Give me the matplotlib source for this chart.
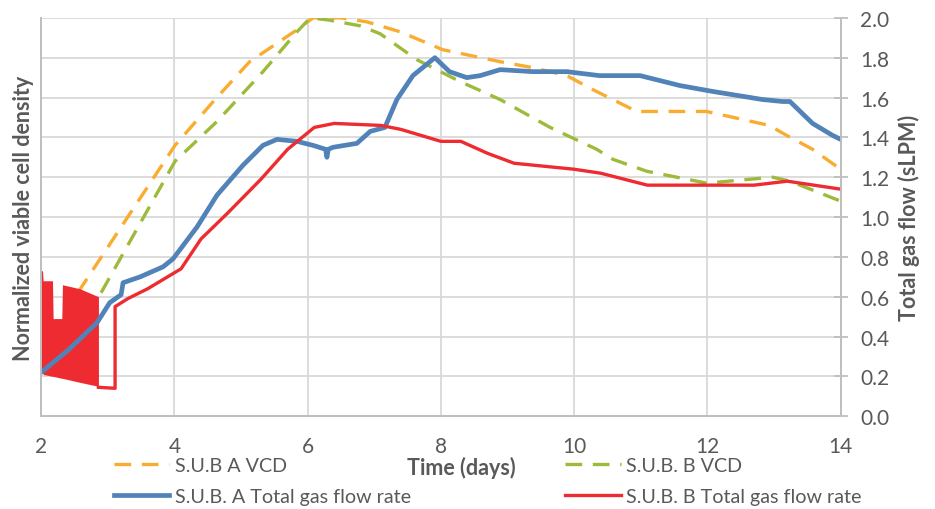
import numpy as np
import matplotlib
matplotlib.use('Agg')
from matplotlib import pyplot as plt

plt.rcParams['font.family'] = ['Lato', 'DejaVu Sans']

# S.U.B A VCD (normalized)
a_vcd_day = [2.55, 4.01, 4.61, 5.13, 5.84, 6.08, 6.5, 6.89, 7.39, 8.03, 8.89, 9.38,
             9.89, 10.28, 10.58, 10.94, 11.99, 12.93, 13.19, 13.58, 14.0]
a_vcd = [0.62, 1.36, 1.59, 1.78, 1.94, 2.0, 2.0, 1.98, 1.93, 1.84, 1.78, 1.75,
         1.71, 1.64, 1.59, 1.53, 1.53, 1.46, 1.41, 1.34, 1.24]

# S.U.B. B VCD (normalized)
b_vcd_day = [2.9, 4.01, 4.64, 5.33, 5.84, 6.04, 6.3, 6.79, 7.09, 7.64, 8.29, 8.89,
             9.64, 10.34, 10.58, 11.09, 11.99, 12.98, 13.24, 14.0]
b_vcd = [0.62, 1.28, 1.48, 1.73, 1.93, 2.0, 1.99, 1.96, 1.92, 1.79, 1.68, 1.59,
         1.45, 1.34, 1.29, 1.23, 1.17, 1.20, 1.18, 1.08]

# S.U.B. A total gas flow (sLPM)
a_gas_day = [2.0, 2.4, 2.84, 3.03, 3.2, 3.23, 3.49, 3.83, 3.98, 4.34, 4.64, 5.03, 5.33,
             5.54, 5.84, 6.08, 6.27, 6.29, 6.31, 6.38, 6.74, 6.94, 7.16, 7.34, 7.58,
             7.91, 8.13, 8.39, 8.59, 8.89, 9.38, 9.89, 10.38, 10.99, 11.59, 12.09,
             12.83, 13.13, 13.24, 13.58, 13.88, 14.0]
a_gas = [0.22, 0.33, 0.47, 0.57, 0.61, 0.67, 0.70, 0.75, 0.79, 0.95, 1.11, 1.26, 1.36,
         1.39, 1.38, 1.36, 1.34, 1.30, 1.34, 1.35, 1.37, 1.43, 1.45, 1.59, 1.71,
         1.80, 1.73, 1.70, 1.71, 1.74, 1.73, 1.73, 1.71, 1.71, 1.66, 1.63,
         1.59, 1.58, 1.58, 1.47, 1.41, 1.39]

# S.U.B. B total gas flow (sLPM): early on/off band, then steady line
b_band_day = [2.0, 2.02, 2.03, 2.17, 2.18, 2.31, 2.32, 2.58, 2.86]
b_band_hi = [0.73, 0.73, 0.68, 0.68, 0.49, 0.49, 0.66, 0.64, 0.60]
b_band_lo = [0.22, 0.22, 0.21, 0.20, 0.20, 0.19, 0.19, 0.17, 0.15]
b_gas_day = [2.86, 3.11, 3.11, 3.3, 3.6, 4.1, 4.4, 4.8, 5.3, 5.7, 6.1, 6.4, 7.1,
             7.4, 8.0, 8.3, 8.7, 9.1, 10.0, 10.4, 11.1, 12.7, 13.2, 14.0]
b_gas = [0.145, 0.14, 0.55, 0.59, 0.64, 0.74, 0.89, 1.02, 1.19, 1.34, 1.45, 1.47,
         1.46, 1.44, 1.38, 1.38, 1.32, 1.27, 1.24, 1.22, 1.16, 1.16, 1.18, 1.14]

x_ticks = [2, 4, 6, 8, 10, 12, 14]
y_ticks = [0.0, 0.2, 0.4, 0.6, 0.8, 1.0, 1.2, 1.4, 1.6, 1.8, 2.0]

ORANGE = '#F9AC30'
GREEN = '#9DBB3A'
BLUE = '#5283B8'
RED = '#EE2B30'
GRID = '#D9D9D9'
TEXT = '#595959'


def main():
    fig = plt.figure(figsize=(9.35, 5.1), dpi=100)
    ax = fig.add_axes([0.044, 0.182, 0.855, 0.781])
    ax2 = ax.twinx()

    for a in (ax, ax2):
        a.set_xlim(2, 14)
        a.set_ylim(0, 2.0)
        for s in a.spines.values():
            s.set_color('#BFBFBF')
            s.set_linewidth(1.3)
        a.spines['top'].set_visible(False)

    ax.set_xticks(x_ticks)
    ax.set_xticklabels([str(t) for t in x_ticks], fontsize=15, color=TEXT)
    ax.tick_params(axis='x', length=0, pad=14)
    ax.set_yticks(y_ticks)
    ax.tick_params(axis='y', length=0, labelleft=False)
    ax.grid(True, color=GRID, lw=1.3)
    ax.set_axisbelow(True)

    ax2.set_yticks(y_ticks)
    ax2.set_yticklabels(['%.1f' % t for t in y_ticks], fontsize=15, color=TEXT)
    ax2.tick_params(axis='y', direction='inout', length=10, width=1.3,
                    color='#BFBFBF', pad=9)

    l_a, = ax.plot(a_vcd_day, a_vcd, color=ORANGE, lw=2.4, ls=(0, (5, 3.2)))
    l_b, = ax.plot(b_vcd_day, b_vcd, color=GREEN, lw=2.4, ls=(0, (5, 3.2)))
    g_a, = ax2.plot(a_gas_day, a_gas, color=BLUE, lw=3.4)
    ax2.fill_between(b_band_day, b_band_lo, b_band_hi, color=RED, lw=0)
    g_b, = ax2.plot(b_gas_day, b_gas, color=RED, lw=2.4)

    ax.set_ylabel('Normalized viable cell density', fontsize=15.5,
                  fontweight='bold', color=TEXT, labelpad=5)
    ax2.set_ylabel('Total gas flow (sLPM)', fontsize=15.5,
                   fontweight='bold', color=TEXT, labelpad=6)
    fig.text(0.493, 0.083, 'Time (days)', fontsize=15.5, fontweight='bold',
             color=TEXT, ha='center', va='center')

    fig.legend([l_a, g_a, l_b, g_b],
               ['S.U.B A VCD', 'S.U.B. A Total gas flow rate',
                'S.U.B. B VCD', 'S.U.B. B Total gas flow rate'],
               ncol=2, loc='center', bbox_to_anchor=(0.522, 0.055),
               frameon=False, fontsize=14.2, handlelength=2.8,
               handletextpad=0.3, columnspacing=7.8, labelspacing=0.68,
               labelcolor=TEXT)

    fig.savefig('out.png', dpi=100)


if __name__ == '__main__':
    main()
